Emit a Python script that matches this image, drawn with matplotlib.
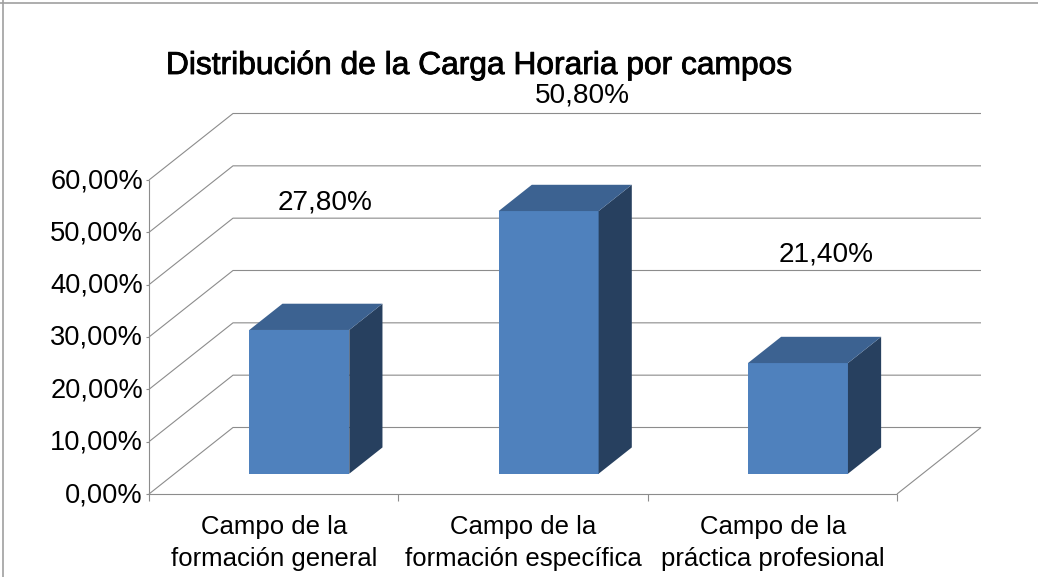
import matplotlib
matplotlib.use("Agg")
import matplotlib.pyplot as plt
import matplotlib.patheffects as pe
from matplotlib.patches import Polygon
from matplotlib.lines import Line2D

categories = ["Campo de la\nformación general", "Campo de la\nformación específica", "Campo de la\npráctica profesional"]
values = [27.8, 50.8, 21.4]
value_labels = ["27,80%", "50,80%", "21,40%"]
yticks = [0, 10, 20, 30, 40, 50, 60]
ytick_labels = ["0,00%", "10,00%", "20,00%", "30,00%", "40,00%", "50,00%", "60,00%"]
title = "Distribución de la Carga Horaria por campos"

plt.rcParams['font.family'] = ['Liberation Sans', 'DejaVu Sans']
W, H = 1038, 577
fig = plt.figure(figsize=(W/100, H/100), dpi=100, facecolor='white')

L, R, B, T = 149, 897, 494, 180
ax = fig.add_axes([L/W, 1-B/H, (R-L)/W, (B-T)/H])
ax.set_xlim(0, 3)
ax.set_ylim(0, 60)
ax.axis('off')

DX, DY = 84, 66.5
ux = (R-L)/3
uy = (B-T)/60
GRID = '#8C8C8C'

def proj(c, v, d=0.0):
    return (c + d*DX/ux, v + d*DY/uy)

def line(pts, color=GRID, lw=0.8, z=1):
    ax.add_line(Line2D([p[0] for p in pts], [p[1] for p in pts], color=color, lw=lw,
                       zorder=z, clip_on=False, solid_capstyle='butt'))

# walls and floor
for v in yticks:
    line([proj(0, v), proj(0, v, 1), proj(3, v, 1)])
line([proj(0, 0), proj(0, 60)])
line([proj(0, 0), proj(3, 0)])
line([proj(3, 0), proj(3, 0, 1)])
for v in yticks:
    line([proj(0, v), proj(-3/ux, v)])
for c in range(4):
    line([proj(c, 0), proj(c, -7/uy)])

# bars
half = 50/ux
d0, d1 = 0.305, 0.70
vscale = 0.988
FRONT, SIDE, TOP = '#4F81BD', '#27405F', '#3C6291'
for i, val in enumerate(values):
    c = i + 0.5
    v = val * vscale
    xl, xr = c-half, c+half
    ax.add_patch(Polygon([proj(xl, 0, d0), proj(xr, 0, d0), proj(xr, v, d0), proj(xl, v, d0)],
                         fc=FRONT, ec='none', zorder=3, clip_on=False))
    ax.add_patch(Polygon([proj(xr, 0, d0), proj(xr, 0, d1), proj(xr, v, d1), proj(xr, v, d0)],
                         fc=SIDE, ec='none', zorder=3, clip_on=False))
    ax.add_patch(Polygon([proj(xl, v, d0), proj(xr, v, d0), proj(xr, v, d1), proj(xl, v, d1)],
                         fc=TOP, ec='none', zorder=3, clip_on=False))

# axis labels
for v, s in zip(yticks, ytick_labels):
    ax.annotate(s, xy=(0, v), xytext=(-6, -1), textcoords='offset pixels', ha='right', va='center',
                fontsize=19.6, color='black', annotation_clip=False)
for i, s in enumerate(categories):
    ax.annotate(s, xy=(i+0.5, 0), xytext=(0.5, -49), textcoords='offset pixels', ha='center', va='center',
                fontsize=18.5, linespacing=1.38, color='black', annotation_clip=False)

# value labels
label_xy = [(325, 203), (582, 96), (826, 254)]
for s, (px, py) in zip(value_labels, label_xy):
    fig.text(px/W, 1-py/H, s, ha='center', va='center', fontsize=20.2, color='black')

fig.text(479.5/W, 1-66/H, title, ha='center', va='center', fontsize=22.85, color='black',
         path_effects=[pe.withStroke(linewidth=0.6, foreground='black')])

# outer frame
for xs, ys in [((2.5, 2.5), (0, H)), ((0, W), (H-2.5, H-2.5))]:
    fig.add_artist(Line2D([x/W for x in xs], [y/H for y in ys], color='#A0A0A0', lw=1.2))

fig.savefig('out.png', dpi=100)
